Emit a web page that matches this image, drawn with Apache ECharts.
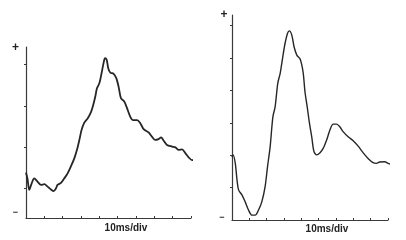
<!DOCTYPE html>
<html>
<head>
<meta charset="utf-8">
<script src="https://cdn.jsdelivr.net/npm/echarts@6/dist/echarts.min.js"></script>
<style>html,body{margin:0;padding:0;background:#fff}#c{width:406px;height:240px}</style>
</head>
<body>
<div id="c"></div>
<script>
// Left panel trace: time (ms) and amplitude (arbitrary units)
var leftTime = [0, 0.8, 1.8, 3.1, 4.5, 6.3, 8.2, 10.0, 11.8, 13.6, 15.1, 16.4, 17.2, 19.1, 20.9, 22.7, 24.6, 26.4, 27.8, 29.1, 30.3, 31.8, 33.6, 35.5, 36.7, 37.8, 38.7, 40.0, 41.2, 42.3, 43.1, 44.0, 44.9, 46.0, 47.8, 49.3, 50.5, 51.8, 53.6, 55.1, 56.9, 58.4, 60.6, 62.4, 64.2, 66.9, 68.7, 70.5, 72.3, 73.7, 75.1, 76.9, 79.7, 81.5, 83.3, 85.1, 86.9, 88.7, 90.6, 92.4, 94.2, 95.5];
var leftAmp  = [1.1, 0.95, 0.68, 0.84, 0.96, 0.88, 0.80, 0.82, 0.76, 0.69, 0.65, 0.72, 0.80, 0.85, 0.96, 1.08, 1.26, 1.45, 1.65, 1.89, 2.13, 2.31, 2.41, 2.57, 2.74, 2.94, 3.14, 3.26, 3.50, 3.75, 3.87, 3.83, 3.62, 3.52, 3.49, 3.38, 3.18, 2.90, 2.82, 2.66, 2.45, 2.37, 2.37, 2.29, 2.15, 2.07, 1.97, 1.89, 1.91, 1.95, 1.87, 1.77, 1.73, 1.71, 1.65, 1.66, 1.57, 1.47, 1.40, 1.42, 1.42, 1.38];
// Right panel trace
var rightTime = [0, 0.6, 1.9, 2.9, 3.8, 5.8, 7.6, 9.5, 11.5, 13.4, 15.3, 17.2, 19.1, 20.5, 22.0, 23.6, 24.9, 26.4, 27.8, 29.3, 30.6, 32.0, 33.1, 34.5, 35.8, 37.4, 39.3, 41.0, 42.1, 43.5, 44.6, 46.0, 47.3, 48.9, 50.8, 52.6, 54.6, 56.5, 58.4, 60.3, 62.2, 64.1, 67.0, 69.9, 72.8, 75.6, 78.5, 81.4, 83.3, 85.2, 88.1, 90.0, 92.5, 93.3];
var rightAmp  = [1.94, 2.01, 1.75, 1.23, 0.93, 0.77, 0.56, 0.31, 0.15, 0.15, 0.31, 0.56, 1.03, 1.65, 2.26, 3.19, 3.50, 4.22, 4.53, 5.04, 5.45, 5.76, 5.84, 5.71, 5.35, 5.09, 4.97, 4.57, 3.96, 3.45, 3.02, 2.57, 2.11, 2.01, 2.08, 2.21, 2.47, 2.78, 2.96, 2.96, 2.88, 2.73, 2.57, 2.45, 2.28, 2.08, 1.90, 1.77, 1.75, 1.79, 1.80, 1.75, 1.70, 1.68];
var xTickLabel = '10ms/div';
var leftYTicks = [0.73, 1.72, 2.71, 3.73];
var rightYTicks = [1, 2, 3, 4, 5, 6];

function pairs(t, a) { return t.map(function (v, i) { return [v, a[i]]; }); }

var axisCol = '#3a3a3a';
function xAx(gi) {
  return {
    gridIndex: gi, type: 'value', min: 0, max: 90, interval: 10,
    axisLine: { show: true, lineStyle: { color: axisCol, width: 1.2 } },
    axisTick: { show: true, inside: true, length: 2, lineStyle: { color: axisCol } },
    axisLabel: { show: false }, splitLine: { show: false }
  };
}
function yAx(gi, max, ticks) {
  return {
    gridIndex: gi, type: 'value', min: 0, max: max,
    axisLine: { show: true, lineStyle: { color: axisCol, width: 1.2 } },
    axisTick: { show: true, length: 2, customValues: ticks, lineStyle: { color: axisCol } },
    axisLabel: { show: false }, splitLine: { show: false }
  };
}

var chart = echarts.init(document.getElementById('c'), null, { renderer: 'canvas' });
var txt = function (x, y, s, size, col) {
  return { type: 'text', x: x, y: y, style: { text: s, fill: col || '#222', font: 'bold ' + size + 'px "Liberation Sans", Arial, sans-serif', align: 'center', verticalAlign: 'middle' } };
};
chart.setOption({
  animation: false,
  backgroundColor: '#fff',
  grid: [
    { left: 26, top: 47, width: 165, height: 171 },
    { left: 232, top: 15, width: 156, height: 205 }
  ],
  xAxis: [xAx(0), xAx(1)],
  yAxis: [yAx(0, 4.14, leftYTicks), yAx(1, 6.33, rightYTicks)],
  series: [
    { type: 'line', xAxisIndex: 0, yAxisIndex: 0, data: pairs(leftTime, leftAmp), clip: false, smooth: 0.3, showSymbol: false, lineStyle: { color: '#262626', width: 1.8 } },
    { type: 'line', xAxisIndex: 1, yAxisIndex: 1, data: pairs(rightTime, rightAmp), clip: false, smooth: 0.3, showSymbol: false, lineStyle: { color: '#262626', width: 1.4 } }
  ],
  graphic: [
    txt(15.5, 48, '+', 12),
    txt(15.5, 213, '−', 9),
    txt(224, 15, '+', 12),
    txt(222, 218, '−', 9),
    txt(126, 228, xTickLabel, 10),
    txt(327, 229.5, xTickLabel, 10)
  ]
});
</script>
</body>
</html>
